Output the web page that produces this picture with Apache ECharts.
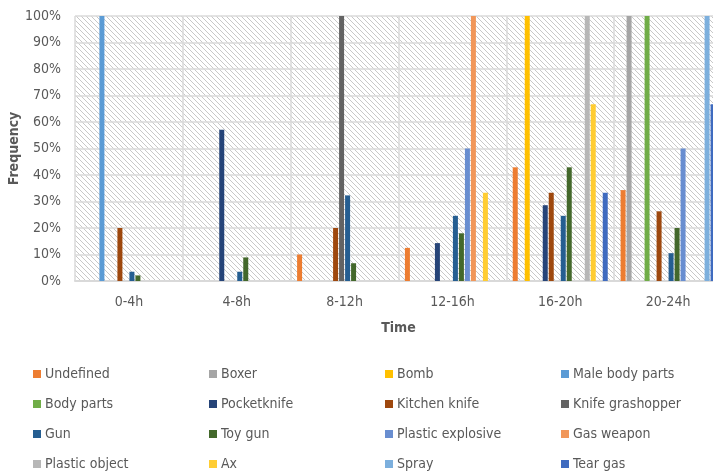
<!DOCTYPE html>
<html>
<head>
<meta charset="utf-8">
<script src="https://cdn.jsdelivr.net/npm/echarts@6/dist/echarts.min.js"></script>
<style>
  html, body { margin: 0; padding: 0; background: #ffffff; overflow: hidden; }
  #chart { width: 740px; height: 473px; }
</style>
</head>
<body>
<div id="chart"></div>
<script>
// Time-of-day buckets and weapon/object types
const categories = ['0-4h', '4-8h', '8-12h', '12-16h', '16-20h', '20-24h'];

const seriesNames = [
  'Undefined', 'Boxer', 'Bomb', 'Male body parts',
  'Body parts', 'Pocketknife', 'Kitchen knife', 'Knife grashopper',
  'Gun', 'Toy gun', 'Plastic explosive', 'Gas weapon',
  'Plastic object', 'Ax', 'Spray', 'Tear gas'
];

// Frequency (%) per time bucket; null = no occurrence
const undefinedVals       = [null, null, 10,   12.5, 42.9, 34.3];
const boxerVals           = [null, null, null, null, null, 100];
const bombVals            = [null, null, null, null, 100,  null];
const maleBodyPartsVals   = [100,  null, null, null, null, null];
const bodyPartsVals       = [null, null, null, null, null, 100];
const pocketknifeVals     = [null, 57.1, null, 14.3, 28.6, null];
const kitchenKnifeVals    = [20,   null, 20,   null, 33.3, 26.3];
const knifeGrashopperVals = [null, null, 100,  null, null, null];
const gunVals             = [3.5,  3.5,  32.3, 24.6, 24.6, 10.5];
const toyGunVals          = [2.1,  8.9,  6.7,  18,   42.9, 20];
const plasticExplVals     = [null, null, null, 50,   null, 50];
const gasWeaponVals       = [null, null, null, 100,  null, null];
const plasticObjectVals   = [null, null, null, null, 100,  null];
const axVals              = [null, null, null, 33.3, 66.7, null];
const sprayVals           = [null, null, null, null, null, 100];
const tearGasVals         = [null, null, null, null, 33.3, 66.7];

const yTicks = { min: 0, max: 100, step: 10 };

const seriesValues = [
  undefinedVals, boxerVals, bombVals, maleBodyPartsVals,
  bodyPartsVals, pocketknifeVals, kitchenKnifeVals, knifeGrashopperVals,
  gunVals, toyGunVals, plasticExplVals, gasWeaponVals,
  plasticObjectVals, axVals, sprayVals, tearGasVals
];

const colors = [
  '#ED7D31', '#A5A5A5', '#FFC000', '#5B9BD5',
  '#70AD47', '#264478', '#9E480E', '#636363',
  '#255E91', '#43682B', '#698ED0', '#F1975A',
  '#B7B7B7', '#FFCD33', '#7CAFDD', '#3F6BBF'
];

const FONT = "'DejaVu Sans Condensed', 'Liberation Sans', sans-serif";
const TEXT = '#595959';

// Diagonal hatch fill for the plot area
function hatchPattern() {
  const s = 5;
  const c = document.createElement('canvas');
  c.width = s; c.height = s;
  const g = c.getContext('2d');
  g.fillStyle = '#ffffff';
  g.fillRect(0, 0, s, s);
  g.strokeStyle = '#c8c8c8';
  g.lineWidth = 1;
  for (const off of [-s, 0, s]) {
    g.beginPath();
    g.moveTo(off - 1, -1);
    g.lineTo(off + s + 1, s + 1);
    g.stroke();
  }
  return c;
}

const chart = echarts.init(document.getElementById('chart'), null, { renderer: 'canvas' });

// Four legend columns, row-major order as in the key below the chart
const legendCols = [33, 209, 385, 561];
const legends = legendCols.map((left, col) => ({
  orient: 'vertical',
  left: left,
  top: 366,
  itemWidth: 8,
  itemHeight: 8,
  itemGap: 14,
  icon: 'rect',
  selectedMode: false,
  padding: 0,
  textStyle: { fontFamily: FONT, fontSize: 14, color: TEXT, lineHeight: 16, padding: [0, 0, 0, -1] },
  data: [0, 1, 2, 3].map(r => seriesNames[r * 4 + col])
}));

const option = {
  animation: false,
  backgroundColor: '#ffffff',
  color: colors,
  legend: legends,
  grid: {
    left: 75, right: 18, top: 16, bottom: 192,
    outerBoundsMode: 'none',
    containLabel: false,
    show: true,
    borderWidth: 0,
    backgroundColor: { image: hatchPattern(), repeat: 'repeat' }
  },
  xAxis: {
    type: 'category',
    data: categories,
    boundaryGap: true,
    name: 'Time',
    nameLocation: 'middle',
    nameGap: 40,
    nameMoveOverlap: false,
    nameTextStyle: { fontFamily: FONT, fontSize: 14, fontWeight: 'bold', color: TEXT },
    axisLine: { show: true, lineStyle: { color: '#D9D9D9', width: 2 } },
    axisTick: { show: false },
    axisLabel: { fontFamily: FONT, fontSize: 14, color: TEXT, margin: 14 },
    splitLine: { show: true, lineStyle: { color: '#DADADA', width: 1.5 } }
  },
  yAxis: {
    type: 'value',
    min: yTicks.min,
    max: yTicks.max,
    interval: yTicks.step,
    name: 'Frequency',
    nameLocation: 'middle',
    nameGap: 54,
    nameMoveOverlap: false,
    nameTextStyle: { fontFamily: FONT, fontSize: 14, fontWeight: 'bold', color: TEXT },
    axisLine: { show: false },
    axisTick: { show: false },
    axisLabel: { fontFamily: FONT, fontSize: 14, color: TEXT, margin: 14, formatter: '{value}%' },
    splitLine: { show: true, lineStyle: { color: '#DADADA', width: 1.5 } }
  },
  series: seriesNames.map((name, i) => ({
    name: name,
    type: 'bar',
    data: seriesValues[i],
    barWidth: 5,
    barGap: '20%',
    itemStyle: { color: colors[i] }
  }))
};

chart.setOption(option);
</script>
</body>
</html>
